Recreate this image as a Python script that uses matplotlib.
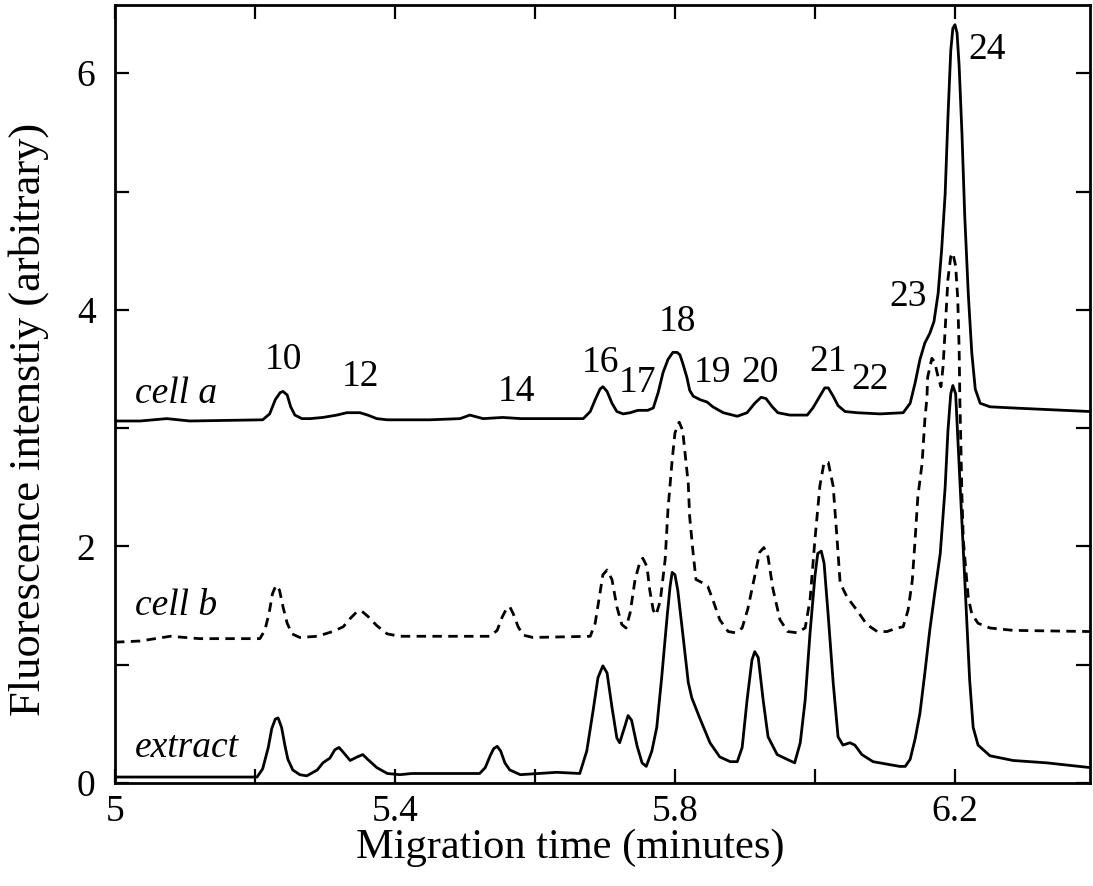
import numpy as np
import matplotlib
matplotlib.use('Agg')
import matplotlib.pyplot as plt
from matplotlib.ticker import FixedLocator

# traces (migration time in minutes, intensity)
cell_a_t = [5.000, 5.036, 5.074, 5.107, 5.211, 5.221, 5.229, 5.236, 5.240, 5.246,
            5.251, 5.257, 5.267, 5.279, 5.297, 5.317, 5.331, 5.350, 5.361, 5.374,
            5.389, 5.450, 5.493, 5.507, 5.526, 5.554, 5.580, 5.669, 5.679, 5.686,
            5.693, 5.697, 5.703, 5.710, 5.717, 5.726, 5.736, 5.747, 5.761, 5.769,
            5.776, 5.783, 5.790, 5.797, 5.803, 5.807, 5.811, 5.817, 5.821, 5.826,
            5.836, 5.846, 5.854, 5.869, 5.889, 5.903, 5.914, 5.923, 5.930, 5.939,
            5.947, 5.964, 5.989, 5.997, 6.007, 6.014, 6.019, 6.026, 6.033, 6.043,
            6.060, 6.093, 6.126, 6.136, 6.143, 6.150, 6.157, 6.164, 6.170, 6.176,
            6.181, 6.186, 6.190, 6.194, 6.197, 6.200, 6.203, 6.206, 6.210, 6.214,
            6.219, 6.224, 6.229, 6.236, 6.250, 6.283, 6.393]
cell_a_y = [3.06, 3.06, 3.08, 3.06, 3.07, 3.12, 3.24, 3.30, 3.31, 3.28,
            3.18, 3.11, 3.08, 3.08, 3.09, 3.11, 3.13, 3.13, 3.11, 3.08,
            3.07, 3.07, 3.08, 3.11, 3.08, 3.09, 3.08, 3.08, 3.14, 3.24,
            3.33, 3.35, 3.31, 3.21, 3.14, 3.12, 3.13, 3.15, 3.15, 3.17,
            3.30, 3.47, 3.58, 3.64, 3.64, 3.62, 3.55, 3.43, 3.32, 3.27,
            3.24, 3.22, 3.18, 3.13, 3.10, 3.13, 3.21, 3.26, 3.25, 3.18,
            3.13, 3.11, 3.11, 3.17, 3.27, 3.34, 3.34, 3.27, 3.19, 3.14,
            3.13, 3.12, 3.13, 3.21, 3.38, 3.58, 3.72, 3.80, 3.90, 4.14,
            4.51, 4.98, 5.63, 6.19, 6.38, 6.41, 6.34, 6.06, 5.49, 4.79,
            4.14, 3.64, 3.33, 3.21, 3.18, 3.17, 3.14]

cell_b_t = [5.000, 5.036, 5.079, 5.121, 5.207, 5.214, 5.220, 5.225, 5.230, 5.235,
            5.240, 5.246, 5.253, 5.264, 5.289, 5.311, 5.326, 5.336, 5.346, 5.353,
            5.361, 5.374, 5.389, 5.407, 5.440, 5.536, 5.546, 5.553, 5.559, 5.564,
            5.569, 5.576, 5.583, 5.597, 5.679, 5.686, 5.693, 5.697, 5.703, 5.710,
            5.717, 5.724, 5.730, 5.736, 5.743, 5.750, 5.754, 5.760, 5.764, 5.769,
            5.773, 5.779, 5.786, 5.790, 5.796, 5.800, 5.806, 5.811, 5.814, 5.819,
            5.821, 5.826, 5.830, 5.840, 5.847, 5.854, 5.864, 5.876, 5.886, 5.896,
            5.904, 5.914, 5.921, 5.927, 5.933, 5.940, 5.950, 5.961, 5.974, 5.986,
            5.993, 6.000, 6.007, 6.013, 6.019, 6.026, 6.031, 6.036, 6.046, 6.060,
            6.074, 6.089, 6.103, 6.117, 6.126, 6.133, 6.139, 6.143, 6.147, 6.153,
            6.157, 6.160, 6.161, 6.167, 6.171, 6.176, 6.180, 6.183, 6.187, 6.190,
            6.194, 6.197, 6.201, 6.204, 6.206, 6.207, 6.208, 6.210, 6.212, 6.216,
            6.219, 6.224, 6.233, 6.250, 6.283, 6.393]
cell_b_y = [1.19, 1.20, 1.24, 1.22, 1.22, 1.29, 1.43, 1.60, 1.67, 1.63,
            1.49, 1.35, 1.26, 1.23, 1.24, 1.28, 1.32, 1.39, 1.45, 1.45,
            1.41, 1.33, 1.26, 1.24, 1.24, 1.24, 1.29, 1.40, 1.47, 1.49,
            1.43, 1.32, 1.25, 1.23, 1.24, 1.35, 1.61, 1.76, 1.80, 1.72,
            1.49, 1.34, 1.31, 1.44, 1.72, 1.87, 1.90, 1.83, 1.63, 1.46,
            1.42, 1.54, 1.89, 2.31, 2.73, 2.96, 3.05, 2.98, 2.81, 2.53,
            2.25, 1.94, 1.72, 1.69, 1.66, 1.55, 1.38, 1.28, 1.27, 1.31,
            1.47, 1.75, 1.95, 1.99, 1.91, 1.64, 1.38, 1.28, 1.27, 1.31,
            1.55, 2.06, 2.51, 2.71, 2.71, 2.51, 2.11, 1.69, 1.57, 1.46,
            1.34, 1.28, 1.28, 1.31, 1.32, 1.46, 1.71, 2.05, 2.42, 2.70,
            3.07, 3.26, 3.43, 3.59, 3.56, 3.43, 3.35, 3.52, 3.94, 4.26,
            4.45, 4.48, 4.37, 4.09, 3.66, 3.24, 2.98, 2.42, 2.05, 1.77,
            1.57, 1.43, 1.35, 1.31, 1.29, 1.28]

extract_t = [5.000, 5.203, 5.211, 5.219, 5.224, 5.229, 5.233, 5.238, 5.243, 5.247,
             5.254, 5.264, 5.274, 5.289, 5.297, 5.307, 5.314, 5.320, 5.326, 5.336,
             5.346, 5.354, 5.361, 5.374, 5.389, 5.407, 5.424, 5.521, 5.529, 5.536,
             5.541, 5.546, 5.551, 5.557, 5.564, 5.579, 5.631, 5.664, 5.674, 5.683,
             5.690, 5.697, 5.703, 5.710, 5.717, 5.721, 5.729, 5.733, 5.738, 5.746,
             5.753, 5.759, 5.767, 5.774, 5.781, 5.789, 5.793, 5.796, 5.800, 5.804,
             5.811, 5.819, 5.824, 5.836, 5.850, 5.864, 5.879, 5.889, 5.896, 5.903,
             5.910, 5.914, 5.919, 5.926, 5.933, 5.946, 5.960, 5.971, 5.979, 5.986,
             5.993, 6.000, 6.004, 6.009, 6.013, 6.019, 6.026, 6.033, 6.040, 6.050,
             6.057, 6.067, 6.083, 6.121, 6.129, 6.136, 6.143, 6.150, 6.157, 6.164,
             6.171, 6.179, 6.186, 6.190, 6.194, 6.197, 6.201, 6.207, 6.214, 6.221,
             6.226, 6.233, 6.250, 6.283, 6.331, 6.393]
extract_y = [0.05, 0.05, 0.12, 0.30, 0.46, 0.54, 0.55, 0.47, 0.31, 0.20,
             0.11, 0.07, 0.06, 0.11, 0.17, 0.21, 0.28, 0.30, 0.26, 0.19,
             0.22, 0.24, 0.20, 0.13, 0.08, 0.07, 0.08, 0.08, 0.13, 0.23,
             0.29, 0.31, 0.27, 0.17, 0.11, 0.07, 0.09, 0.08, 0.27, 0.61,
             0.89, 0.99, 0.93, 0.64, 0.38, 0.34, 0.49, 0.57, 0.53, 0.31,
             0.17, 0.14, 0.27, 0.47, 0.89, 1.42, 1.66, 1.78, 1.76, 1.63,
             1.27, 0.85, 0.72, 0.54, 0.34, 0.22, 0.18, 0.18, 0.30, 0.70,
             1.04, 1.11, 1.06, 0.70, 0.39, 0.24, 0.20, 0.17, 0.34, 0.70,
             1.27, 1.75, 1.94, 1.96, 1.86, 1.41, 0.85, 0.39, 0.32, 0.34,
             0.32, 0.24, 0.18, 0.14, 0.14, 0.20, 0.37, 0.59, 0.93, 1.29,
             1.60, 1.94, 2.50, 2.98, 3.29, 3.36, 3.29, 2.56, 1.72, 0.87,
             0.47, 0.32, 0.23, 0.19, 0.17, 0.13]

# peak numbers and where they sit
peak_names = ['10', '12', '14', '16', '17', '18', '19', '20', '21', '22', '23', '24']
peak_t = [5.240, 5.351, 5.573, 5.693, 5.746, 5.803, 5.854, 5.921, 6.019, 6.079, 6.133, 6.246]
peak_y = [3.58, 3.43, 3.31, 3.55, 3.38, 3.90, 3.47, 3.47, 3.56, 3.41, 4.11, 6.20]

trace_names = ['cell a', 'cell b', 'extract']
trace_label_y = [3.21, 1.42, 0.22]

plt.rcParams['font.family'] = ['Liberation Serif', 'DejaVu Serif']

fig = plt.figure(figsize=(10.93, 8.86), dpi=100)
ax = fig.add_axes([0.1052, 0.1163, 0.8921, 0.8781])

lw = 2.0
ax.plot(cell_a_t, cell_a_y, color='black', lw=lw)
ax.plot(cell_b_t, cell_b_y, color='black', lw=lw, linestyle=(0, (3.4, 2.3)))
ax.plot(extract_t, extract_y, color='black', lw=lw)

for name, t, y in zip(peak_names, peak_t, peak_y):
    ax.text(t, y, name, fontsize=27, ha='center', va='center')

for name, y in zip(trace_names, trace_label_y):
    ax.text(5.029, y, name, fontsize=27, style='italic', ha='left', va='baseline')

ax.set_xlim(5, 6.393)
ax.set_ylim(0, 6.577)
ax.xaxis.set_major_locator(FixedLocator([5, 5.4, 5.8, 6.2]))
ax.xaxis.set_minor_locator(FixedLocator([5.2, 5.6, 6.0]))
ax.set_xticklabels(['5', '5.4', '5.8', '6.2'])
ax.yaxis.set_major_locator(FixedLocator([0, 2, 4, 6]))
ax.yaxis.set_minor_locator(FixedLocator([1, 3, 5]))
ax.tick_params(which='both', direction='in', length=10, width=1.6,
               top=True, right=True, labelsize=27)
ax.tick_params(axis='x', pad=8)
ax.tick_params(axis='y', pad=14)
for s in ax.spines.values():
    s.set_linewidth(2)

ax.set_xlabel('Migration time (minutes)', fontsize=30.5)
ax.set_ylabel('Fluorescence intenstiy (arbitrary)', fontsize=32)
ax.xaxis.set_label_coords(0.467, -0.058)
ax.yaxis.set_label_coords(-0.068, 0.467)

fig.savefig('out.png', dpi=100)
